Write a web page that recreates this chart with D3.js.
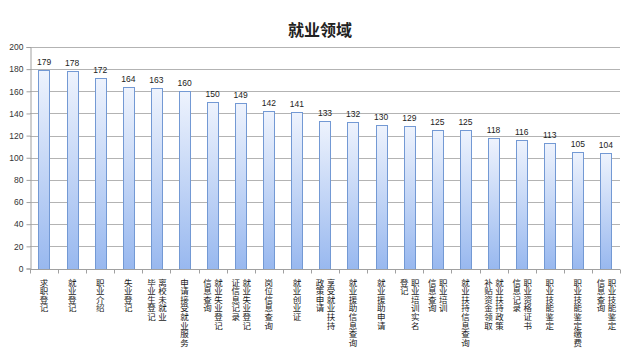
<!DOCTYPE html>
<html><head><meta charset="utf-8">
<script src="https://cdn.jsdelivr.net/npm/d3@7"></script>
<style>
html,body{margin:0;padding:0;background:#fff;}
svg{display:block;}
text{font-family:"Noto Sans CJK SC","Noto Sans",sans-serif;}
</style></head>
<body><svg id="c" width="636" height="361"></svg>
<script>
const title = "就业领域";
const categories = [
  "求职登记","就业登记","职业介绍","失业登记","离校未就业|毕业生登记",
  "申请接受就业服务","就业失业登记|信息查询","就业失业登记|证信息记录","岗位信息查询","就业创业证",
  "享受就业扶持|政策申请","就业援助信息查询","就业援助申请","职业培训实名|登记","职业培训|信息查询",
  "就业扶持信息查询","就业扶持政策|补贴资金领取","职业资格证书|信息记录","职业技能鉴定","职业技能鉴定缴费",
  "职业技能鉴定|信息查询"
];
const values = [179,178,172,164,163,160,150,149,142,141,133,132,130,129,125,125,118,116,113,105,104];
const yTicks = [0,20,40,60,80,100,120,140,160,180,200];

const svg = d3.select("#c");
const m = {left:30, right:620, top:47, bottom:268.5};

const x = d3.scaleBand().domain(d3.range(categories.length)).range([m.left, m.right]).paddingInner(0.6).paddingOuter(0.3);
const xOuter = d3.scaleBand().domain(d3.range(categories.length)).range([m.left, m.right]);
const y = d3.scaleLinear().domain([0,200]).range([m.bottom, m.top]);

const defs = svg.append("defs");
const grad = defs.append("linearGradient").attr("id","bg").attr("x1",0).attr("y1",0).attr("x2",0).attr("y2",1);
grad.append("stop").attr("offset","0%").attr("stop-color","#eef3fd");
grad.append("stop").attr("offset","100%").attr("stop-color","#98b8ef");

// title
svg.append("text").attr("x",320).attr("y",36).attr("text-anchor","middle")
  .attr("font-size",16).attr("font-weight","bold").attr("fill","#222").text(title);

// gridlines
svg.append("g").selectAll("line").data(yTicks.filter(d=>d>0)).join("line")
  .attr("x1",m.left).attr("x2",m.right)
  .attr("y1",d=>Math.round(y(d))+0.5).attr("y2",d=>Math.round(y(d))+0.5)
  .attr("stroke","#b3b3b3").attr("stroke-width",1);

// y axis
const ya = svg.append("g").attr("transform",`translate(${m.left+0.5},0)`)
  .call(d3.axisLeft(y).tickValues(yTicks).tickSize(4).tickPadding(3));
ya.select(".domain").attr("stroke","#a0a0a0");
ya.selectAll(".tick line").attr("stroke","#a0a0a0");
ya.selectAll(".tick text").attr("font-size",8.5).attr("fill","#333")
  .style("font-family","'Liberation Sans',Arial,sans-serif");

// bars
svg.append("g").selectAll("rect").data(values).join("rect")
  .attr("x",(d,i)=>Math.round(x(i))+0.5)
  .attr("y",d=>Math.round(y(d))+0.5)
  .attr("width",Math.round(x.bandwidth()))
  .attr("height",d=>Math.round(y(0))-Math.round(y(d)))
  .attr("fill","url(#bg)").attr("stroke","#7399d4").attr("stroke-width",1);

// value labels
svg.append("g").selectAll("text").data(values).join("text")
  .attr("x",(d,i)=>x(i)+x.bandwidth()/2)
  .attr("y",d=>y(d)-5)
  .attr("text-anchor","middle").attr("font-size",8.5).attr("fill","#222")
  .style("font-family","'Liberation Sans',Arial,sans-serif")
  .text(d=>d);

// x axis line and ticks
svg.append("line").attr("x1",m.left).attr("x2",m.right)
  .attr("y1",Math.round(y(0))+0.5).attr("y2",Math.round(y(0))+0.5).attr("stroke","#a0a0a0");
svg.append("g").selectAll("line").data(d3.range(categories.length+1)).join("line")
  .attr("x1",i=>Math.round(m.left+i*xOuter.step())+0.5).attr("x2",i=>Math.round(m.left+i*xOuter.step())+0.5)
  .attr("y1",Math.round(y(0))+0.5).attr("y2",Math.round(y(0))+4.5).attr("stroke","#a0a0a0");

// category labels (vertical stacked characters, columns read right-to-left)
const lab = svg.append("g");
const charStep = 8.6;
categories.forEach((c,i)=>{
  const lines = c.split("|");
  const cx = x(i)+x.bandwidth()/2;
  lines.forEach((ln,j)=>{
    let px = cx;
    if(lines.length===2) px = j===0 ? cx+6 : cx-5;
    const t = lab.append("text")
      .attr("text-anchor","middle")
      .attr("font-size",8.5).attr("fill","#222");
    Array.from(ln).forEach((ch,k)=>{
      t.append("tspan").attr("x",px).attr("y",278+7.5+k*charStep).text(ch);
    });
  });
});
</script></body></html>
